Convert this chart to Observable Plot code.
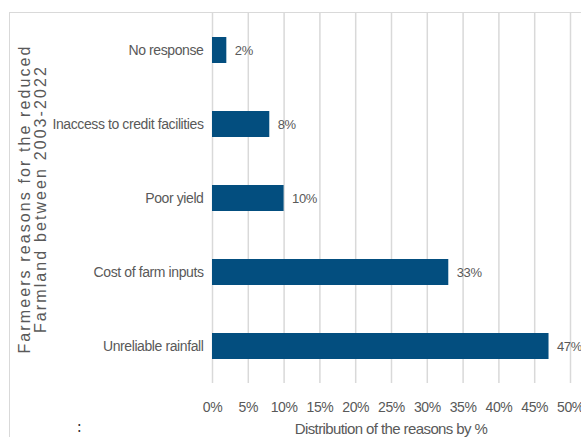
<!DOCTYPE html>
<html>
<head>
<meta charset="utf-8">
<script src="https://cdn.jsdelivr.net/npm/d3@7"></script>
<script src="https://cdn.jsdelivr.net/npm/@observablehq/plot@0.6"></script>
<style>
  html, body { margin: 0; padding: 0; background: #fff; }
  #wrap { position: relative; width: 581px; height: 437px; overflow: hidden; }
  #frame { position: absolute; left: 9px; top: 12px; width: 700px; height: 600px;
           border-top: 1.5px solid #d9d9d9; border-left: 1.5px solid #d9d9d9; }
  #chart { position: absolute; left: 0; top: 0; }
</style>
</head>
<body>
<div id="wrap"><div id="frame"></div><div id="chart"></div></div>
<script>
const reasons = ["No response", "Inaccess to credit facilities", "Poor yield", "Cost of farm inputs", "Unreliable rainfall"];
const percents = [2, 8, 10, 33, 47];
const xTicks = [0, 5, 10, 15, 20, 25, 30, 35, 40, 45, 50];
const yTitle = ["Farmeers reasons for the reduced", "Farmland between 2003-2022"];
const xTitle = "Distribution of the reasons by %";

const data = reasons.map((r, i) => ({reason: r, pct: percents[i]}));
const narrow = "'Liberation Sans', Arial, sans-serif";

const chart = Plot.plot({
  width: 581,
  height: 437,
  marginLeft: 212,
  marginRight: 11,
  marginTop: 13,
  marginBottom: 54,
  style: {fontFamily: narrow, fontSize: "14px", color: "#595959", background: "transparent", letterSpacing: "-0.4px"},
  x: {domain: [0, 50], ticks: xTicks, tickFormat: d => d + "%", tickSize: 0, tickPadding: 19, label: null},
  y: {domain: reasons, paddingInner: 0.65, paddingOuter: 0.32, tickSize: 0, tickPadding: 9, label: null},
  marks: [
    Plot.ruleX(xTicks, {stroke: "#d9d9d9", strokeWidth: 1.5}),
    Plot.barX(data, {x: "pct", y: "reason", fill: "#034e7f"}),
    Plot.text(data, {x: "pct", y: "reason", text: d => d.pct + "%", textAnchor: "start", dx: 8, fill: "#595959", fontSize: 13})
  ]
});
document.getElementById("chart").appendChild(chart);

const svg = d3.select(chart);
svg.append("text")
  .attr("x", 391).attr("y", 434)
  .attr("text-anchor", "middle")
  .attr("fill", "#595959")
  .style("font-family", narrow).style("font-size", "15px").style("letter-spacing", "-0.6px")
  .text(xTitle);

const yt = svg.append("text")
  .attr("transform", "translate(0,199) rotate(-90)")
  .attr("text-anchor", "middle")
  .attr("fill", "#595959")
  .style("font-family", "'Liberation Sans', Arial, sans-serif").style("font-size", "16px")
  .style("letter-spacing", "2.1px");
yTitle.forEach((t, i) => yt.append("tspan").attr("x", 0).attr("y", 30 + i * 16).text(t));

svg.append("text")
  .attr("x", 79).attr("y", 432)
  .attr("text-anchor", "middle")
  .attr("fill", "#333")
  .style("font-family", "'DejaVu Sans', sans-serif").style("font-size", "15px")
  .text(":");
</script>
</body>
</html>
